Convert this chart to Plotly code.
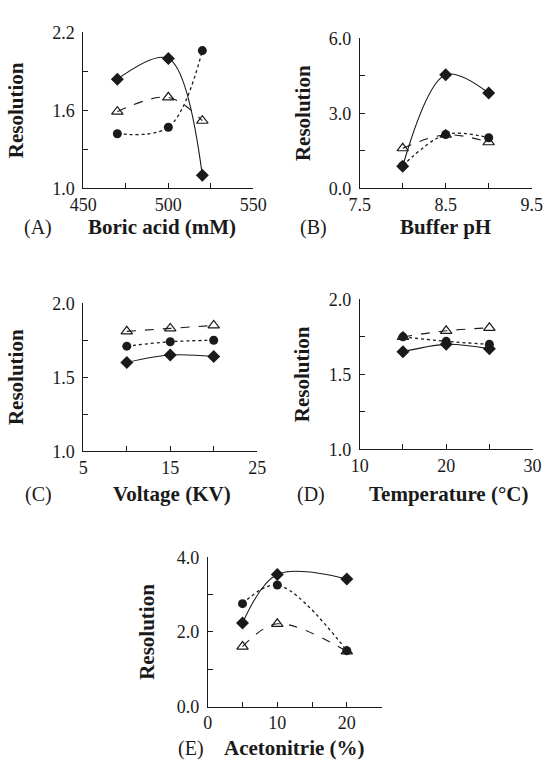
import plotly.graph_objects as go

W, H = 558, 774

# ---- data ----
boric_x = [470, 500, 520]
boric_diamond = [1.84, 2.00, 1.10]
boric_circle = [1.42, 1.47, 2.06]
boric_triangle = [1.59, 1.70, 1.52]

ph_x = [8.0, 8.5, 9.0]
ph_diamond = [0.88, 4.54, 3.81]
ph_circle = [0.90, 2.15, 2.02]
ph_triangle = [1.60, 2.14, 1.84]

volt_x = [10, 15, 20]
volt_diamond = [1.60, 1.65, 1.64]
volt_circle = [1.71, 1.74, 1.75]
volt_triangle = [1.81, 1.83, 1.85]

temp_x = [15, 20, 25]
temp_diamond = [1.65, 1.70, 1.67]
temp_circle = [1.75, 1.72, 1.70]
temp_triangle = [1.75, 1.79, 1.81]

acn_x = [5, 10, 20]
acn_diamond = [2.24, 3.54, 3.42]
acn_circle = [2.76, 3.26, 1.50]
acn_triangle = [1.61, 2.22, 1.48]

x_titles = ["Boric acid (mM)", "Buffer pH", "Voltage (KV)", "Temperature (°C)", "Acetonitrie (%)"]
panel_tags = ["(A)", "(B)", "(C)", "(D)", "(E)"]

# ---- layout helpers (pixel boxes of plot areas) ----
boxes = [
    (73, 252, 23, 183),
    (364, 545, 29, 183),
    (73, 256, 301, 453),
    (364, 546, 297, 451),
    (204, 387, 562, 715),
]
xaxes_spec = [
    ([450, 550], [450, 475, 500, 525, 550], ["450", "", "500", "", "550"]),
    ([7.5, 9.5], [7.5, 8.0, 8.5, 9.0, 9.5], ["7.5", "", "8.5", "", "9.5"]),
    ([5, 25], [5, 10, 15, 20, 25], ["5", "", "15", "", "25"]),
    ([10, 30], [10, 15, 20, 25, 30], ["10", "", "20", "", "30"]),
    ([0, 25], [0, 5, 10, 15, 20, 25], ["0", "", "10", "", "20", ""]),
]
yaxes_spec = [
    ([1.0, 2.2], [1.0, 1.3, 1.6, 1.9, 2.2], ["1.0", "", "1.6", "", "2.2"]),
    ([0, 6], [0, 1.5, 3.0, 4.5, 6.0], ["0.0", "", "3.0", "", "6.0"]),
    ([1.0, 2.0], [1.0, 1.25, 1.5, 1.75, 2.0], ["1.0", "", "1.5", "", "2.0"]),
    ([1.0, 2.0], [1.0, 1.25, 1.5, 1.75, 2.0], ["1.0", "", "1.5", "", "2.0"]),
    ([0, 4], [0, 1, 2, 3, 4], ["0.0", "", "2.0", "", "4.0"]),
]
series = [
    (boric_x, boric_diamond, boric_circle, boric_triangle),
    (ph_x, ph_diamond, ph_circle, ph_triangle),
    (volt_x, volt_diamond, volt_circle, volt_triangle),
    (temp_x, temp_diamond, temp_circle, temp_triangle),
    (acn_x, acn_diamond, acn_circle, acn_triangle),
]
# label pixel positions
xtitle_pos = [(156, 223), (454, 223), (166, 497), (457, 497), (295, 758)]
tag_pos = [(25, 223), (315, 223), (26, 497), (313, 497), (186, 758)]
ytitle_standoff = [22, 12, 22, 13, 16]

INK = "#1a1a1a"
FONT = "Liberation Serif"

def px(x):
    return x / W

def py(y):
    return 1 - y / H

fig = go.Figure()
layout = dict(
    width=W, height=H, margin=dict(l=0, r=0, t=0, b=0),
    paper_bgcolor="white", plot_bgcolor="white", showlegend=False,
    font=dict(family=FONT, size=18, color=INK),
)
annotations = []

for i in range(5):
    n = "" if i == 0 else str(i + 1)
    xa, ya = "x" + n, "y" + n
    x0, x1, y0, y1 = boxes[i]
    xr, xt, xl = xaxes_spec[i]
    yr, yt, yl = yaxes_spec[i]
    common = dict(showgrid=False, zeroline=False, showline=True, linecolor=INK,
                  linewidth=1, ticks="inside", ticklen=5, tickcolor=INK, tickwidth=1,
                  tickfont=dict(family=FONT, size=18, color=INK))
    layout["xaxis" + n] = dict(domain=[px(x0), px(x1)], range=xr, tickmode="array",
                               tickvals=xt, ticktext=xl, anchor=ya, ticklabelstandoff=0, **common)
    layout["yaxis" + n] = dict(domain=[py(y1), py(y0)], range=yr, tickmode="array",
                               tickvals=yt, ticktext=yl, anchor=xa, ticklabelstandoff=4,
                               title=dict(text="<b>Resolution</b>", standoff=ytitle_standoff[i],
                                          font=dict(family=FONT, size=21, color=INK)),
                               **common)
    sx, sd, sc, st = series[i]
    fig.add_trace(go.Scatter(x=sx, y=sd, xaxis=xa, yaxis=ya, mode="lines+markers",
                             line=dict(color=INK, width=1.1, shape="spline", smoothing=1.0),
                             marker=dict(symbol="diamond", size=10, color=INK),
                             cliponaxis=False))
    fig.add_trace(go.Scatter(x=sx, y=sc, xaxis=xa, yaxis=ya, mode="lines+markers",
                             line=dict(color=INK, width=1.3, dash="dot", shape="spline", smoothing=1.0),
                             marker=dict(symbol="circle", size=9, color=INK),
                             cliponaxis=False))
    fig.add_trace(go.Scatter(x=sx, y=st, xaxis=xa, yaxis=ya, mode="lines+markers",
                             line=dict(color=INK, width=1.1, dash="dash", shape="spline", smoothing=1.0),
                             marker=dict(symbol="triangle-up-open", size=10, color=INK,
                                         line=dict(color=INK, width=1.2)),
                             cliponaxis=False))
    tx, ty = xtitle_pos[i]
    annotations.append(dict(text="<b>" + x_titles[i] + "</b>", x=px(tx), y=py(ty), xref="paper", yref="paper",
                            showarrow=False, xanchor="center", yanchor="middle",
                            font=dict(family=FONT, size=21, color=INK)))
    gx, gy = tag_pos[i]
    annotations.append(dict(text=panel_tags[i], x=px(gx), y=py(gy), xref="paper", yref="paper",
                            showarrow=False, xanchor="center", yanchor="middle",
                            font=dict(family=FONT, size=20, color=INK)))

layout["annotations"] = annotations
fig.update_layout(**layout)
fig.write_html("out.html")
